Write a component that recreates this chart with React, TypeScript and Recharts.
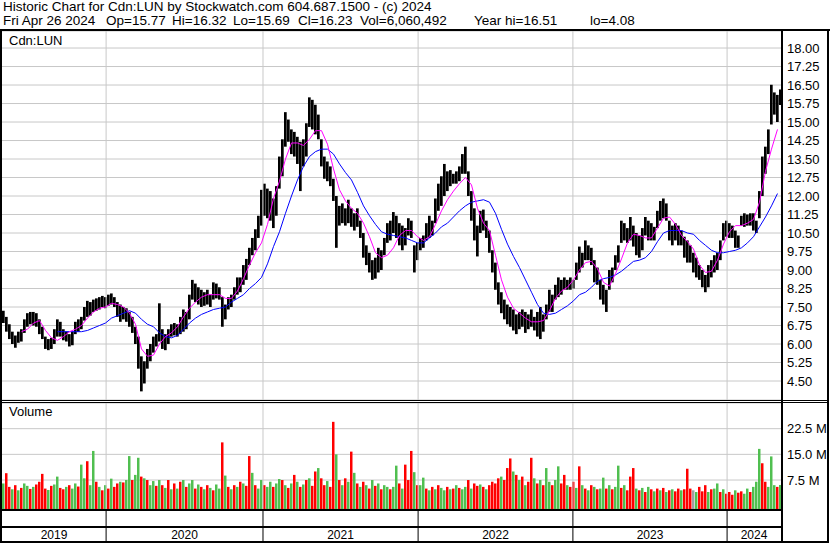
import React from 'react';
import { ComposedChart, Bar, Line, XAxis, YAxis, CartesianGrid, ReferenceLine, Cell } from 'recharts';

// Weekly bars, Apr 2019 .. Apr 26 2024 (index = week number)
const highs = [
  7.35, 7.1, 6.8, 6.5, 6.35, 6.5, 6.6, 7.0, 7.25, 7.3,
  7.3, 7.25, 7.0, 6.7, 6.3, 6.2, 6.25, 6.6, 7.0, 6.9,
  6.6, 6.5, 6.4, 6.5, 6.9, 7.0, 7.1, 7.5, 7.75, 7.7,
  7.8, 7.85, 7.9, 7.95, 7.9, 8.0, 8.05, 7.9, 7.7, 7.6,
  7.5, 7.45, 7.3, 7.1, 6.7, 6.3, 5.5, 5.3, 5.8, 6.0,
  6.3, 6.4, 7.65, 6.6, 6.4, 6.6, 6.8, 6.85, 6.8, 7.1,
  7.4, 7.3, 8.0, 8.6, 8.45, 8.3, 8.2, 8.1, 8.2, 8.0,
  8.5, 8.45, 8.3, 7.9, 7.6, 7.9, 8.0, 8.3, 8.7, 8.7,
  9.2, 9.45, 9.9, 10.3, 10.65, 11.2, 12.25, 12.5, 12.3, 12.2,
  11.9, 12.4, 13.6, 14.3, 15.4, 15.1, 14.7, 14.6, 14.4, 14.2,
  14.3, 14.95, 16.0, 15.9, 15.7, 15.3, 14.3, 13.6, 13.4, 13.2,
  12.7, 12.0, 11.6, 11.7, 11.5, 11.85, 11.5, 11.3, 11.5, 11.0,
  10.5, 10.0, 9.7, 9.4, 9.5, 9.9, 9.8, 10.3, 10.9, 11.0,
  11.35, 11.2, 10.9, 10.8, 10.7, 11.1, 11.0, 10.0, 10.1, 10.3,
  10.4, 10.9, 11.2, 11.0, 11.9, 12.5, 12.8, 13.3, 13.0, 13.05,
  12.9, 13.0, 13.2, 13.7, 14.0, 13.0, 12.2, 11.5, 10.8, 11.4,
  11.45, 11.0, 10.6, 9.8, 9.3, 8.5, 8.1, 7.8, 7.6, 7.5,
  7.4, 7.2, 7.3, 7.4, 7.3, 7.2, 7.4, 7.1, 7.3, 7.5,
  7.2, 7.6, 8.2, 8.0, 8.4, 8.7, 8.6, 8.7, 8.6, 8.7,
  8.6, 9.3, 9.95, 9.7, 10.2, 10.0, 9.9, 9.4, 9.1, 8.6,
  8.4, 8.2, 9.0, 9.1, 9.6, 10.0, 11.0, 10.9, 10.7, 11.15,
  10.8, 10.5, 10.4, 10.7, 11.15, 11.0, 10.9, 10.75, 11.4, 11.8,
  11.9, 11.7, 11.0, 10.8, 10.9, 10.8, 10.6, 10.35, 10.2, 10.0,
  9.7, 9.5, 9.2, 9.0, 8.8, 9.2, 9.4, 9.6, 9.7, 10.2,
  10.9, 11.0, 10.9, 10.8, 10.6, 10.4, 11.2, 11.3, 11.25, 11.3,
  11.3, 11.0, 12.2, 13.6, 14.0, 14.7, 16.51, 16.2, 16.1, 16.32,
];
const lows = [
  6.85, 6.5, 6.2, 6.0, 5.85, 6.05, 6.1, 6.45, 6.7, 6.8,
  6.75, 6.7, 6.4, 6.2, 5.8, 5.75, 5.8, 6.0, 6.3, 6.3,
  6.15, 6.1, 5.9, 5.95, 6.4, 6.5, 6.6, 6.95, 7.1, 7.15,
  7.3, 7.35, 7.4, 7.5, 7.45, 7.55, 7.6, 7.5, 7.1, 6.9,
  7.0, 6.9, 6.7, 6.45, 6.0, 5.0, 4.08, 4.4, 5.0, 5.3,
  5.65, 5.9, 6.1, 5.8, 5.75, 6.0, 6.3, 6.35, 6.3, 6.4,
  6.5, 6.6, 7.0, 7.8, 7.7, 7.6, 7.5, 7.55, 7.6, 7.5,
  7.8, 7.85, 7.8, 6.7, 7.0, 7.4, 7.5, 7.8, 8.0, 8.1,
  8.4, 8.6, 9.2, 9.6, 9.8, 10.3, 10.8, 11.2, 11.1, 11.0,
  10.7, 11.2, 12.3, 12.8, 14.0, 14.2, 13.7, 13.6, 13.3, 12.2,
  13.2, 13.6, 14.8, 14.7, 14.5, 14.3, 13.2, 12.7, 12.6, 12.4,
  11.8, 9.9, 10.8, 10.9, 10.8, 10.9, 10.75, 10.6, 10.75, 10.3,
  9.5, 9.2, 8.9, 8.6, 8.65, 8.9, 9.0, 9.6, 10.1, 10.2,
  10.5, 10.3, 10.0, 9.8, 10.0, 10.4, 10.3, 8.9, 9.4, 9.8,
  9.9, 10.2, 10.3, 10.4, 10.9, 11.4, 11.6, 12.0, 12.2, 12.4,
  12.5, 12.5, 12.6, 12.9, 12.9, 12.0, 11.0, 10.2, 9.55, 10.5,
  10.6, 10.3, 9.7, 8.9, 8.2, 7.6, 7.25, 7.0, 6.8, 6.7,
  6.55, 6.4, 6.6, 6.7, 6.45, 6.6, 6.7, 6.55, 6.3, 6.2,
  6.5, 7.0, 7.3, 7.3, 7.8, 7.9, 8.0, 8.2, 8.2, 8.2,
  8.25, 8.6, 8.9, 9.1, 9.4, 9.4, 9.2, 8.5, 8.4, 7.8,
  7.6, 7.3, 8.2, 8.5, 9.0, 9.3, 10.1, 10.2, 10.1, 10.2,
  9.95, 9.6, 9.5, 9.8, 10.4, 10.2, 10.2, 10.2, 10.7, 11.0,
  11.1, 11.0, 10.2, 10.0, 10.2, 10.0, 10.0, 9.5, 9.3, 9.3,
  8.9, 8.7, 8.6, 8.3, 8.1, 8.3, 8.7, 8.9, 9.0, 9.4,
  10.2, 10.35, 10.3, 10.3, 9.9, 9.9, 10.8, 10.75, 10.8, 10.8,
  10.6, 10.5, 11.1, 12.0, 12.9, 13.7, 14.9, 15.3, 15.0, 15.69,
];
// Moving averages, read every second week
const maShort = [
  null, null, null, 6.5, 6.6, 6.85, 6.95, 6.55, 6.25, 6.15,
  6.3, 6.5, 6.6, 6.75, 7.05, 7.3, 7.45, 7.5, 7.65, 7.6,
  7.5, 7.25, 6.8, 5.8, 5.5, 5.55, 6.0, 6.3, 6.45, 6.7,
  7.1, 7.45, 7.7, 7.9, 8.0, 8.0, 8.0, 7.85, 7.85, 8.15,
  8.65, 9.2, 9.7, 10.1, 10.85, 11.9, 12.6, 13.5, 14.15, 14.15,
  14.05, 14.3, 14.65, 14.65, 14.1, 13.1, 12.25, 11.8, 11.5, 11.3,
  10.9, 10.35, 9.7, 9.5, 9.6, 9.9, 10.4, 10.6, 10.6, 10.35,
  10.2, 10.35, 10.85, 11.4, 11.85, 12.2, 12.5, 12.75, 12.45, 11.5,
  10.9, 10.6, 9.6, 8.6, 7.9, 7.45, 7.25, 7.05, 6.9, 6.9,
  6.95, 7.35, 7.85, 8.15, 8.3, 8.6, 9.0, 9.3, 9.35, 9.05,
  8.5, 8.35, 8.85, 9.45, 10.1, 10.45, 10.4, 10.3, 10.3, 10.7,
  11.1, 11.15, 10.85, 10.4, 10.15, 9.85, 9.2, 8.9, 8.95, 9.4,
  10.05, 10.55, 10.8, 10.8, 10.9, 11.05, 11.75, 13.0, 13.9, 14.7,
];
const maLong = [
  null, null, null, null, null, null, null, null, null, 6.5,
  6.5, 6.5, 6.5, 6.5, 6.55, 6.65, 6.75, 6.85, 7.05, 7.15,
  7.25, 7.35, 7.25, 7.0, 6.8, 6.7, 6.45, 6.3, 6.25, 6.35,
  6.6, 6.85, 7.05, 7.2, 7.3, 7.4, 7.45, 7.5, 7.7, 7.85,
  8.0, 8.25, 8.45, 8.7, 9.25, 9.95, 10.55, 11.3, 12.0, 12.65,
  13.2, 13.6, 13.8, 13.9, 13.9, 13.7, 13.3, 12.95, 12.65, 12.15,
  11.6, 11.2, 10.85, 10.55, 10.45, 10.4, 10.35, 10.3, 10.2, 10.1,
  10.1, 10.3, 10.5, 10.75, 10.9, 11.15, 11.4, 11.6, 11.75, 11.8,
  11.85, 11.75, 11.3, 10.65, 10.05, 9.55, 9.1, 8.6, 8.1, 7.6,
  7.25, 7.2, 7.25, 7.4, 7.55, 7.75, 8.0, 8.1, 8.3, 8.55,
  8.65, 8.7, 8.8, 8.95, 9.15, 9.35, 9.4, 9.5, 9.75, 10.15,
  10.5, 10.6, 10.6, 10.6, 10.5, 10.45, 10.2, 10.0, 9.8, 9.7,
  9.7, 9.75, 9.8, 9.9, 10.1, 10.35, 10.75, 11.15, 11.6, 12.1,
];
// Volume in millions, direction: g = up, r = down, n = unchanged
const volumes = [
  6.5, 9.5, 5.5, 4.8, 6.0, 4.5, 5.2, 6.5, 5.8, 4.9,
  5.5, 6.2, 7.0, 9.3, 5.0, 4.6, 5.8, 6.2, 8.5, 5.2,
  4.8, 5.5, 6.0, 5.0, 6.5, 5.6, 12.0, 8.0, 13.0, 6.0,
  16.0, 7.0, 5.5, 4.5, 6.0, 5.0, 7.9, 5.5, 6.5, 7.0,
  6.8, 7.5, 14.5, 7.5, 9.0, 14.0, 8.5, 8.0, 7.5, 6.0,
  7.2, 5.8, 7.5, 6.0, 5.2, 7.5, 4.8, 6.5, 5.0, 7.0,
  7.5, 5.5, 6.5, 7.5, 5.0, 6.2, 5.5, 4.8, 6.0, 5.2,
  4.5, 6.2, 5.0, 18.5, 8.8, 5.5, 4.8, 6.0, 5.5, 7.0,
  6.5, 5.8, 14.5, 9.6, 6.0, 5.0, 7.5, 6.0, 5.5, 7.0,
  5.5, 6.5, 7.8, 7.5, 6.0, 5.2, 6.5, 9.0, 7.0, 5.5,
  6.2, 7.5, 8.0, 5.8, 10.0, 11.0, 8.0, 6.0, 7.2, 5.5,
  24.5, 15.0, 7.5, 6.0, 8.0, 7.0, 15.8, 9.6, 6.5, 5.5,
  7.0, 6.0, 5.0, 7.5, 5.8, 6.5, 4.8, 6.0, 5.5, 4.8,
  5.5, 11.7, 6.5, 5.0, 12.0, 7.5, 16.0, 9.8, 6.0, 6.0,
  8.2, 5.0, 4.5, 5.5, 4.8, 6.0, 5.2, 4.5, 5.5, 4.8,
  5.0, 6.0, 5.2, 4.8, 5.5, 7.5, 5.0, 6.5, 5.8, 6.2,
  5.5, 4.8, 6.0, 7.0, 6.5, 8.0, 8.5, 7.5, 11.0, 13.8,
  10.0, 9.0, 7.5, 8.5, 6.0, 7.0, 14.0, 8.0, 6.5, 7.5,
  6.0, 11.0, 7.0, 6.0, 7.5, 11.5, 6.5, 9.0, 6.0, 5.5,
  7.0, 5.2, 11.5, 6.0, 5.0, 4.5, 6.0, 5.5, 4.8, 5.0,
  8.2, 5.0, 6.0, 4.8, 5.5, 11.7, 5.2, 6.0, 4.5, 8.5,
  11.0, 5.0, 4.5, 5.2, 4.0, 5.5, 4.8, 4.2, 5.0, 4.5,
  5.2, 4.0, 4.5, 4.8, 4.2, 5.0, 4.5, 4.8, 10.8, 5.0,
  4.5, 4.0, 5.5, 4.2, 6.0, 4.0, 4.8, 5.0, 6.5, 4.0,
  4.8, 3.5, 4.0, 3.2, 4.5, 3.8, 4.2, 3.5, 5.0, 4.0,
  5.5, 7.0, 16.6, 12.4, 7.0, 5.5, 14.4, 6.0, 5.5, 6.06,
];
const volDirs =
  'grrgrgrggr' + 'grrrrgrggr' + 'rgrggrggrg' + 'grgrgrgrrg' + 'rggrggrgrg' +
  'grgrgrgrgr' + 'grggrgrgrg' + 'rggrgrgrgr' + 'grrgrggrgg' + 'rggrgrgrgr' +
  'grgrrgrrgr' + 'rgrgrgrgrg' + 'rgrgrgrggr' + 'ggrgrrrgrg' + 'grgrgrggrg' +
  'rgrggrgrrg' + 'rgrrrrgrrr' + 'grgrgrrgrg' + 'rggrggrrgr' + 'rgrgrgrgrg' +
  'grgrggrgrr' + 'rgrgrgrgrg' + 'rgrgrrgrrr' + 'ngrrrgrggr' + 'grrrgrrggr' +
  'gggrrgggrg';

// Week index at which each calendar year begins
const yearStarts = [34.2, 86.5, 138.2, 189.8, 241.2];
const yearLabels = ['2019', '2020', '2021', '2022', '2023', '2024'];
const priceTicks = [4.5, 5.25, 6, 6.75, 7.5, 8.25, 9, 9.75, 10.5, 11.25, 12, 12.75, 13.5, 14.25, 15, 15.75, 16.5, 17.25, 18];
const volTicks = [7.5, 15, 22.5];

const header1 = 'Historic Chart for Cdn:LUN by Stockwatch.com 604.687.1500 - (c) 2024';
const header2Fields = ['Fri Apr 26 2024', 'Op=15.77', 'Hi=16.32', 'Lo=15.69', 'Cl=16.23', 'Vol=6,060,492', 'Year hi=16.51', 'lo=4.08'];
const header2X = [3, 106, 172, 233, 298, 360, 474, 590];

const X_DOMAIN: [number, number] = [-0.5, 259.17];
const PRICE_DOMAIN: [number, number] = [3.73, 18.69];
const VOL_DOMAIN: [number, number] = [-0.96, 30.0];

const FONT = '"Liberation Sans", Arial, Helvetica, sans-serif';
const GRID = '#c8c8c8';
const COLORS: Record<string, string> = { g: '#50bf50', r: '#ff0000', n: '#a0a0a0' };

const data = highs.map((h, i) => ({
  w: i,
  range: [lows[i], h],
  maS: i % 2 === 0 ? maShort[i / 2] : null,
  maL: i % 2 === 0 ? maLong[i / 2] : null,
  vol: volumes[i],
  dir: volDirs[i],
}));

const bounds = [X_DOMAIN[0], ...yearStarts, X_DOMAIN[1]];
const labelPos = yearLabels.map((_, i) => (bounds[i] + bounds[i + 1]) / 2);

const YearTick = (props: any) => {
  const { x, y, payload } = props;
  const v = payload.value;
  if (yearStarts.indexOf(v) >= 0) {
    return <line x1={x} x2={x} y1={y} y2={y + 32} stroke="#000" strokeWidth={1} />;
  }
  const li = labelPos.indexOf(v);
  return (
    <text x={x} y={y + 30} textAnchor="middle" fontSize={12} fontFamily={FONT} fill="#000">
      {yearLabels[li]}
    </text>
  );
};

const box = (left: number, top: number, width: number, height: number): React.CSSProperties => ({
  position: 'absolute', left, top, width, height, background: '#000',
});

const textStyle = (left: number, top: number): React.CSSProperties => ({
  position: 'absolute', left, top, fontSize: 13.5, lineHeight: '15px', whiteSpace: 'pre', color: '#000',
});

export default function App() {
  return (
    <div style={{ position: 'absolute', left: 0, top: 0, width: 830, height: 543, background: '#fff', overflow: 'hidden', fontFamily: FONT }}>
      <div style={textStyle(3, -1)}>{header1}</div>
      {header2Fields.map((t, i) => (
        <div key={t} style={textStyle(header2X[i], 13)}>{t}</div>
      ))}

      <div style={{ position: 'absolute', left: 0, top: 31 }}>
        <ComposedChart width={830} height={369} data={data} margin={{ top: 0, right: 0, bottom: 0, left: 2 }}>
          <CartesianGrid vertical={false} stroke={GRID} />
          <XAxis type="number" dataKey="w" domain={X_DOMAIN} allowDataOverflow hide />
          <YAxis
            orientation="right"
            width={49}
            domain={PRICE_DOMAIN}
            ticks={priceTicks}
            allowDataOverflow
            axisLine={false}
            tickLine={false}
            tickSize={0}
            tickMargin={6}
            interval={0}
            tickFormatter={(v: number) => v.toFixed(2)}
            tick={{ fill: '#000', fontSize: 13, fontFamily: FONT }}
          />
          {yearStarts.map((v) => (
            <ReferenceLine key={v} x={v} stroke={GRID} />
          ))}
          <Bar dataKey="range" fill="#000" barSize={3} isAnimationActive={false} />
          <Line dataKey="maL" stroke="#0000ff" strokeWidth={1} dot={false} connectNulls type="linear" isAnimationActive={false} />
          <Line dataKey="maS" stroke="#ff00ff" strokeWidth={1} dot={false} connectNulls type="linear" isAnimationActive={false} />
        </ComposedChart>
      </div>

      <div style={{ position: 'absolute', left: 0, top: 403 }}>
        <ComposedChart width={830} height={138} data={data} margin={{ top: 0, right: 0, bottom: 0, left: 2 }}>
          <CartesianGrid vertical={false} stroke={GRID} />
          <XAxis
            type="number"
            dataKey="w"
            domain={X_DOMAIN}
            allowDataOverflow
            height={32}
            ticks={[...yearStarts, ...labelPos]}
            interval={0}
            axisLine={false}
            tickLine={false}
            tickSize={0}
            tickMargin={0}
            tick={<YearTick />}
          />
          <YAxis
            orientation="right"
            width={49}
            domain={VOL_DOMAIN}
            ticks={volTicks}
            allowDataOverflow
            axisLine={false}
            tickLine={false}
            tickSize={0}
            tickMargin={6}
            interval={0}
            tickFormatter={(v: number) => v.toFixed(1) + ' M'}
            tick={{ fill: '#000', fontSize: 13, fontFamily: FONT }}
          />
          {yearStarts.map((v) => (
            <ReferenceLine key={v} x={v} stroke={GRID} />
          ))}
          <Bar dataKey={(d: any) => [VOL_DOMAIN[0], d.vol]} barSize={2.5} isAnimationActive={false}>
            {data.map((d) => (
              <Cell key={d.w} fill={COLORS[d.dir]} />
            ))}
          </Bar>
        </ComposedChart>
      </div>

      <div style={{ position: 'absolute', left: 9, top: 33, fontSize: 13, lineHeight: '15px', color: '#000' }}>Cdn:LUN</div>
      <div style={{ position: 'absolute', left: 9, top: 404, fontSize: 13, lineHeight: '15px', color: '#000' }}>Volume</div>

      <div style={box(0, 29, 830, 2)} />
      <div style={box(0, 29, 2, 514)} />
      <div style={box(781, 29, 2, 514)} />
      <div style={box(827, 29, 2, 514)} />
      <div style={box(0, 400, 829, 1)} />
      <div style={box(0, 402, 829, 1)} />
      <div style={box(0, 509, 783, 2)} />
      <div style={box(0, 526, 783, 2)} />
      <div style={box(0, 541, 829, 2)} />
    </div>
  );
}
